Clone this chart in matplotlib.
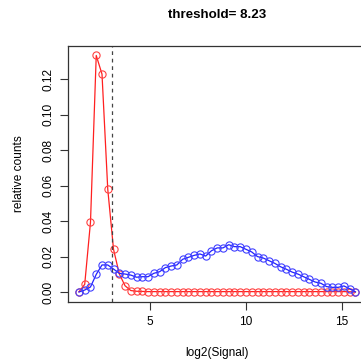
import numpy as np
import matplotlib
matplotlib.use("Agg")
import matplotlib.pyplot as plt

plt.rcParams['font.family'] = ['Liberation Sans', 'DejaVu Sans']

threshold = 8.23

# bin centres (log2 signal)
log_signal = [1.3, 1.6, 1.9, 2.2, 2.5, 2.8, 3.1, 3.4, 3.7, 4.0,
              4.3, 4.6, 4.9, 5.2, 5.5, 5.8, 6.1, 6.4, 6.7, 7.0,
              7.3, 7.6, 7.9, 8.2, 8.5, 8.8, 9.1, 9.4, 9.7, 10.0,
              10.3, 10.6, 10.9, 11.2, 11.5, 11.8, 12.1, 12.4, 12.7, 13.0,
              13.3, 13.6, 13.9, 14.2, 14.5, 14.8, 15.1, 15.4, 15.7]

# background (red) counts
red_counts = [0.0003, 0.0045, 0.0394, 0.1333, 0.1228, 0.058, 0.0242, 0.0104, 0.0037, 0.001,
              0.0006, 0.0005, 0.0004, 0.0004, 0.0004, 0.0004, 0.0004, 0.0004, 0.0004, 0.0004,
              0.0004, 0.0004, 0.0004, 0.0004, 0.0004, 0.0004, 0.0004, 0.0004, 0.0004, 0.0004,
              0.0004, 0.0004, 0.0004, 0.0004, 0.0004, 0.0004, 0.0004, 0.0004, 0.0004, 0.0004,
              0.0004, 0.0004, 0.0004, 0.0004, 0.0004, 0.0004, 0.0004, 0.0003, 0.0002]

# foreground (blue) counts
blue_counts = [0.0002, 0.0013, 0.003, 0.0101, 0.0154, 0.0154, 0.0131, 0.0107, 0.0103, 0.0097,
               0.0085, 0.0088, 0.0088, 0.0107, 0.0116, 0.0139, 0.0148, 0.0154, 0.0186, 0.0197,
               0.0208, 0.0216, 0.0204, 0.0234, 0.025, 0.025, 0.0268, 0.0257, 0.0257, 0.0242,
               0.0227, 0.0201, 0.0193, 0.0178, 0.0163, 0.0144, 0.013, 0.0114, 0.0103, 0.0088,
               0.0073, 0.0058, 0.0051, 0.0032, 0.0028, 0.0028, 0.0036, 0.002, 0.0002]

W, H = 361, 362
fig = plt.figure(figsize=(W / 100, H / 100), dpi=100)
# plot region runs past the right edge, like the cropped original
ax = fig.add_axes([67.9 / W, (H - 301.8) / H, (366.5 - 67.9) / W, (301.8 - 46) / H])

ax.plot(log_signal, red_counts, color='#ff2020', lw=0.9, marker='o', ms=5.2,
        mfc='none', mec='#ff4040', mew=0.8)
ax.plot(log_signal, blue_counts, color='#2020ff', lw=0.9, marker='o', ms=5.2,
        mfc='none', mec='#4040ff', mew=0.8)
ax.axvline(np.log2(threshold), color='#444444', lw=0.9, ls=(0, (3, 3)))

xr = max(log_signal) - min(log_signal)
ax.set_xlim(min(log_signal) - 0.04 * xr, max(log_signal) + 0.04 * xr)
yr = max(max(red_counts), max(blue_counts))
ax.set_ylim(-0.04 * yr, yr * 1.04)

ax.set_xticks([5, 10, 15])
ax.set_yticks([0.0, 0.02, 0.04, 0.06, 0.08, 0.10, 0.12])
ax.set_yticklabels(['0.00', '0.02', '0.04', '0.06', '0.08', '0.10', '0.12'],
                   rotation=90, va='center')
ax.tick_params(length=6, width=0.8, labelsize=8.6, color='#333333', pad=4)
for s in ax.spines.values():
    s.set_linewidth(0.9)
    s.set_color('#333333')

ax.set_xlabel('log2(Signal)', fontsize=8.6, labelpad=14)
ax.set_ylabel('relative counts', fontsize=8.6, labelpad=12)
ax.set_title('threshold= 8.23', fontsize=9.6, fontweight='bold', pad=20)

fig.savefig('out.png', dpi=100)
